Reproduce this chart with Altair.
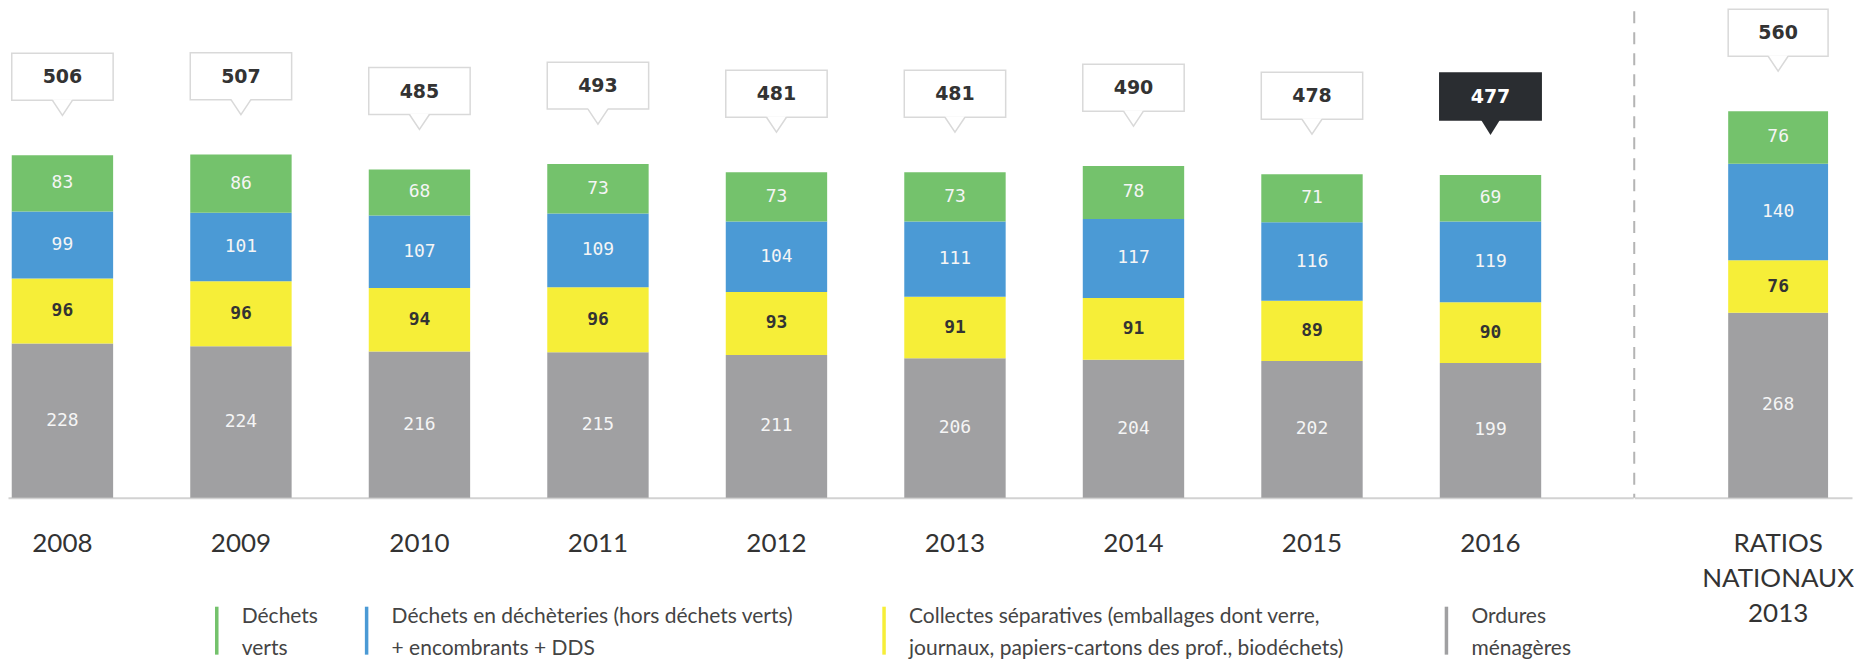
import altair as alt
import pandas as pd

# ---------------- data ----------------
YEARS = ["2008", "2009", "2010", "2011", "2012", "2013", "2014", "2015", "2016"]
RATIO_CAT = "RATIOS NATIONAUX 2013"
HIGHLIGHT = "2016"

OM_NAME = "Ordures ménagères"
CS_NAME = "Collectes séparatives (emballages dont verre, journaux, papiers-cartons des prof., biodéchets)"
DEC_NAME = "Déchets en déchèteries (hors déchets verts) + encombrants + DDS"
DV_NAME = "Déchets verts"

# stacked bottom -> top
SERIES_STACK = [OM_NAME, CS_NAME, DEC_NAME, DV_NAME]
# legend order
SERIES_LEGEND = [DV_NAME, DEC_NAME, CS_NAME, OM_NAME]
SERIES_COLORS = ["#74c26c", "#4b9ad5", "#f6ee38", "#a0a0a2"]
LEGEND_LINES = [
    ["Déchets", "verts"],
    ["Déchets en déchèteries (hors déchets verts)", "+ encombrants + DDS"],
    ["Collectes séparatives (emballages dont verre,", "journaux, papiers-cartons des prof., biodéchets)"],
    ["Ordures", "ménagères"],
]

OM = [228, 224, 216, 215, 211, 206, 204, 202, 199]
CS = [96, 96, 94, 96, 93, 91, 91, 89, 90]
DEC = [99, 101, 107, 109, 104, 111, 117, 116, 119]
DV = [83, 86, 68, 73, 73, 73, 78, 71, 69]

RATIO_OM = [268]
RATIO_CS = [76]
RATIO_DEC = [140]
RATIO_DV = [76]

# ---------------- build tables ----------------
def build(cats, om, cs, dec, dv):
    rows, tots = [], []
    for i, c in enumerate(cats):
        vals = [om[i], cs[i], dec[i], dv[i]]
        lo = 0
        for s, v in zip(SERIES_STACK, vals):
            rows.append({"cat": c, "series": s, "value": v, "lo": lo, "hi": lo + v,
                         "mid": lo + v / 2.0, "dark": s == CS_NAME})
            lo += v
        tots.append({"cat": c, "total": lo, "hl": c == HIGHLIGHT})
    return pd.DataFrame(rows), pd.DataFrame(tots)

seg_l, tot_l = build(YEARS, OM, CS, DEC, DV)
seg_r, tot_r = build([RATIO_CAT], RATIO_OM, RATIO_CS, RATIO_DEC, RATIO_DV)

# ---------------- style ----------------
DARK = "#2a2d31"
BOX_STROKE = "#d9d9d9"
LABEL_FONT = "Lato"
NUM_FONT = "DejaVu Sans Mono"
BOX_FONT = "DejaVu Sans"
H = 490

POINTER_FILL = "M-1,-0.1L1,-0.1L0,1.5Z"
POINTER_LINE = "M-1,0L0,1.5L1,0"

# legend layout (pixel positions of the hand-drawn legend keys)
LEG_KEY_X = [209, 359, 877, 1440]
LEG_TEXT_DX = 25
LEG_KEY_Y = (599, 647)
LEG_LINE_Y = (615, 647)


def legend_layers():
    out = []
    one = pd.DataFrame({"k": [0]})
    for x0, col, lines in zip(LEG_KEY_X, SERIES_COLORS, LEGEND_LINES):
        out.append(alt.Chart(one).mark_rule(color=col, strokeWidth=3.5).encode(
            x=alt.value(x0), y=alt.value(LEG_KEY_Y[0]), y2=alt.value(LEG_KEY_Y[1])))
        for ly, txt in zip(LEG_LINE_Y, lines):
            out.append(alt.Chart(one).mark_text(
                text=txt, font=LABEL_FONT, fontSize=21, color="#444444",
                align="left", baseline="alphabetic").encode(
                x=alt.value(x0 + LEG_TEXT_DX), y=alt.value(ly)))
    return out


def panel(seg, tot, cats, width, xscale, ymax, multiline, extra=None):
    axis_kw = dict(labelAngle=0, labelFont=LABEL_FONT, labelFontSize=26, labelColor="#333333",
                   ticks=False, domain=True, domainColor="#d2d2d2", domainWidth=2,
                   labelPadding=33, labelBaseline="top", grid=False, title=None)
    if multiline:
        axis_kw.update(labelExpr="split(datum.label, ' ')", labelLineHeight=35)
    X = alt.X("cat:N", sort=cats, scale=xscale, axis=alt.Axis(**axis_kw), title=None)
    ysc = alt.Scale(domain=[0, ymax])

    def Y(f):
        return alt.Y(f, type="quantitative", scale=ysc, axis=None, title=None)

    base_seg = alt.Chart(seg)
    bars = base_seg.mark_bar(opacity=1).encode(
        x=X, y=Y("lo"), y2="hi",
        color=alt.Color("series:N", scale=alt.Scale(domain=SERIES_LEGEND, range=SERIES_COLORS),
                        legend=None),
    )
    seg_white = base_seg.transform_filter("!datum.dark").mark_text(
        font=NUM_FONT, fontSize=18, color="#f5f5f5", baseline="middle"
    ).encode(x=X, y=Y("mid"), text="value:Q")
    seg_dark = base_seg.transform_filter("datum.dark").mark_text(
        font=NUM_FONT, fontSize=18, fontWeight="bold", color="#333333", baseline="middle"
    ).encode(x=X, y=Y("mid"), text="value:Q")

    base_tot = alt.Chart(tot)
    box = base_tot.mark_rect(yOffset=-102, y2Offset=-55, strokeWidth=1.5).encode(
        x=X, y=Y("total"), y2="total",
        fill=alt.condition("datum.hl", alt.value(DARK), alt.value("white")),
        stroke=alt.condition("datum.hl", alt.value(DARK), alt.value(BOX_STROKE)),
    )
    ptr = base_tot.mark_point(shape=POINTER_FILL, size=400, filled=True, opacity=1,
                              strokeWidth=0, yOffset=-55).encode(
        x=X, y=Y("total"),
        fill=alt.condition("datum.hl", alt.value(DARK), alt.value("white")),
    )
    ptr_line = base_tot.transform_filter("!datum.hl").mark_point(
        shape=POINTER_LINE, size=400, filled=False, opacity=1, color=BOX_STROKE,
        strokeWidth=1.5, yOffset=-55).encode(x=X, y=Y("total"))
    box_txt = base_tot.mark_text(font=BOX_FONT, fontSize=19, fontWeight="bold",
                                 baseline="middle", yOffset=-78).encode(
        x=X, y=Y("total"), text="total:Q",
        color=alt.condition("datum.hl", alt.value("white"), alt.value("#333333")),
    )
    layers = [bars, seg_white, seg_dark, box, ptr, ptr_line, box_txt]
    if extra is not None:
        layers = extra + layers
    return alt.layer(*layers).properties(width=width, height=H)


left = panel(seg_l, tot_l, YEARS, 1627,
             alt.Scale(paddingInner=0.432, paddingOuter=0.2683, align=0.039),
             723, False, extra=legend_layers())

sep = alt.Chart(tot_r).mark_rule(color="#b4b4b4", strokeWidth=2, strokeDash=[12, 9]).encode(
    x=alt.value(0), y=alt.value(3), y2=alt.value(H)
)
right = panel(seg_r, tot_r, [RATIO_CAT], 218,
              alt.Scale(paddingInner=0, paddingOuter=0.59, align=0.797),
              709, True, extra=[sep])

chart = alt.hconcat(left, right, spacing=0).resolve_scale(
    x="independent", y="independent", color="shared"
).properties(padding=0).configure_view(stroke=None)

chart.save("out.html", embed_options={"renderer": "svg", "actions": False})
